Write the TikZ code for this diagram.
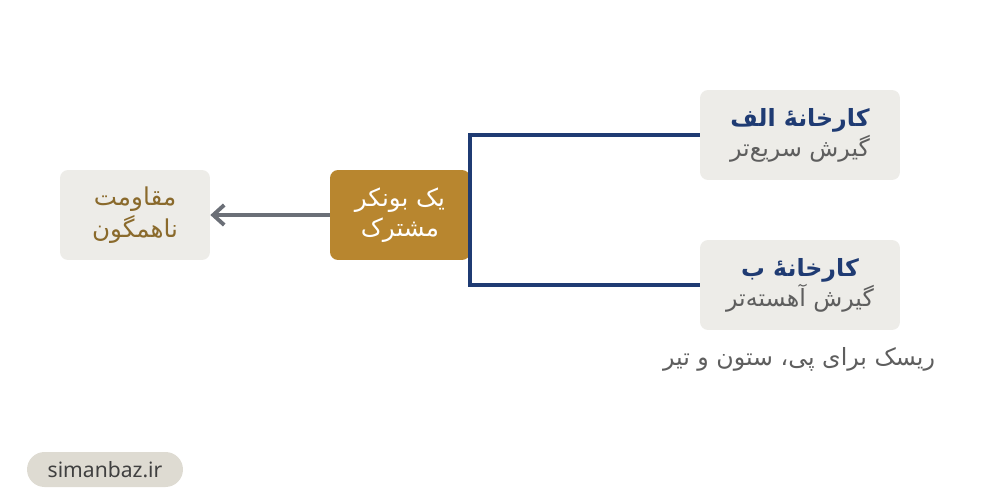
\documentclass[tikz,border=0pt]{standalone}
\usepackage{fontspec}
\usepackage{tikz}
\usetikzlibrary{positioning,arrows.meta}
\TeXXeTstate=1
\newfontfamily\arabicfont[Script=Arabic]{DejaVu Sans}
\newfontfamily\latinfont{Noto Sans}
\definecolor{navy}{HTML}{1F3B73}
\definecolor{gold}{HTML}{B8862F}
\definecolor{goldtext}{HTML}{8A6A2C}
\definecolor{paper}{HTML}{EDECE8}
\definecolor{greytext}{HTML}{5E5E5E}
\definecolor{arrowgrey}{HTML}{6B6F77}
\definecolor{pill}{HTML}{DEDBD2}
\begin{document}
\begin{tikzpicture}[x=0.02cm,y=-0.02cm,
	gbox/.style={rounded corners=0.16cm,fill=paper,minimum width=3cm,minimum height=1.8cm,align=center,font=\arabicfont\fontsize{14}{18}\selectfont},
	bbox/.style={rounded corners=0.16cm,fill=gold,text=white,minimum width=2.8cm,minimum height=1.8cm,align=center,font=\arabicfont\fontsize{14}{17}\selectfont},
	pbox/.style={rounded corners=0.16cm,fill=paper,minimum width=4cm,minimum height=1.8cm,align=center,font=\arabicfont\fontsize{13.5}{17}\selectfont}]
	\useasboundingbox (0,0) rectangle (1000,500);
	
	\node[gbox,text=goldtext] (resist) at (135,215) {\beginR مقاومت\endR\\\beginR ناهمگون\endR};
	\node[bbox] (bunker) at (400,215) {\beginR یک بونکر\endR\\\beginR مشترک\endR};
	
	\node[pbox] (plantA) at (800,135) {\textcolor{navy}{\bfseries\beginR کارخانهٔ الف\endR}\\\textcolor{greytext}{\beginR گیرش سریع‌تر\endR}};
	\node[pbox] (plantB) at (800,285) {\textcolor{navy}{\bfseries\beginR کارخانهٔ ب\endR}\\\textcolor{greytext}{\beginR گیرش آهسته‌تر\endR}};
	
	\node[text=greytext,font=\arabicfont\fontsize{13.5}{16}\selectfont] (risk) at (799,359) {\beginR ریسک برای پی، ستون و تیر\endR};
	
	\node[rounded corners=0.35cm,fill=pill,text=black!75,minimum width=3.12cm,minimum height=0.7cm,font=\latinfont\fontsize{12}{14}\selectfont] (site) at (105,469.5) {simanbaz.ir};
	
	\draw[navy,line width=2.2pt] (plantA.west) -| (bunker.east) |- (plantB.west);
	\draw[arrowgrey,line width=2.2pt,-{Straight Barb[length=2.2mm,width=4mm]}] (bunker.west) -- (resist.east);
\end{tikzpicture}
\end{document}
